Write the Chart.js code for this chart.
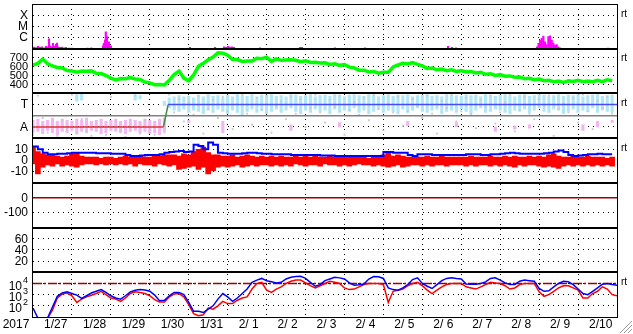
<!DOCTYPE html>
<html>
<head>
<meta charset="utf-8">
<script src="https://cdn.jsdelivr.net/npm/chart.js@4.4.1/dist/chart.umd.min.js"></script>
<style>
  html, body { margin: 0; padding: 0; background: #fff; }
  #wrap { width: 633px; height: 334px; }
</style>
</head>
<body>
<div id="wrap"><canvas id="chart" width="633" height="334"></canvas></div>
<script>
// Time axis: days since 2017-01-27 00:00, series sampled every 3 hours
const step = 0.125;
const yearLabel = '2017';
const dayLabels = ['1/27','1/28','1/29','1/30','1/31','2/ 1','2/ 2','2/ 3','2/ 4','2/ 5','2/ 6','2/ 7','2/ 8','2/ 9','2/10'];

// Tick labels per panel
const xrayTicks = [1e-4, 1e-5, 1e-6];
const xrayTickText = ['X', 'M', 'C'];
const speedTicks = [700, 600, 500, 400];
const sectorTicks = [1, -1];
const sectorTickText = ['T', 'A'];
const imfTicks = [10, 0, -10];
const dstTicks = [0, -100];
const p6Ticks = [60, 40, 20];
const elecTicks = [1e4, 1e3, 1e2];
const elecTickExp = ['4', '3', '2'];

// X-ray flux bars (day, W/m2)
const xrayDay = [0.026,0.077,0.128,0.18,0.231,0.283,0.334,0.385,0.411,0.437,0.488,0.514,0.539,0.591,0.617,0.642,0.694,0.745,0.796,0.848,
  0.93,1.0,1.4,1.5,1.8,1.82,1.85,1.87,1.9,1.95,2.0,
  4.03,4.675,4.906,4.958,5.009,5.06,5.112,5.163,5.831,6.858,6.91,7.757,8.528,10.66,10.763,10.866,
  12.946,12.985,13.023,13.067,13.108,13.152,13.195,13.237,13.28,13.324,13.365,13.409,13.452,13.493,13.537,14.77];
const xrayFlux = [1.4e-7,1.25e-7,1.6e-7,1.3e-7,1.5e-7,1.2e-7,1.6e-7,1.4e-7,7.8e-7,1.8e-7,1.5e-7,3e-7,1.6e-7,2.5e-7,3.2e-7,1.5e-7,1.3e-7,1.4e-7,1.2e-7,1.3e-7,
  1.15e-7,1.15e-7,1.15e-7,1.2e-7,1.8e-7,3e-7,5.9e-7,3.2e-6,1.2e-6,4.2e-7,1.8e-7,
  1.3e-7,1.35e-7,1.5e-7,1.35e-7,1.6e-7,1.4e-7,1.5e-7,1.3e-7,1.2e-7,1.3e-7,1.3e-7,1.2e-7,1.2e-7,1.6e-7,1.3e-7,1.2e-7,
  1.5e-7,3e-7,5.9e-7,8.3e-7,1.35e-6,4.2e-7,2.4e-7,1.2e-6,1.4e-6,5.9e-7,3e-7,2.1e-7,2.4e-7,1.5e-7,1.2e-7,1.15e-7];

// Solar wind speed (km/s)
const speed = [
  618,636,684,632,608,590,584,556,
  552,538,550,548,552,526,522,500,
  472,452,466,464,478,462,456,428,
  418,398,400,394,446,512,550,472,
  442,506,604,636,678,706,754,750,
  728,678,678,658,662,662,694,688,
  706,658,686,670,674,676,670,654,
  666,646,648,640,642,624,632,614,
  622,594,586,560,560,540,546,526,
  536,536,596,618,636,630,646,624,
  608,580,584,564,572,554,564,546,
  556,540,544,528,536,514,520,502,
  510,492,496,480,484,464,470,454,
  460,442,446,432,438,422,442,434,
  448,432,438,430,446,432,452,442];

// IMF sector (T = +1, A = -1)
const sectorDay = [0, 3.35, 3.47, 15];
const sectorVal = [-1, -1, 1, 1];
const phiBlueHi = [
  null,null,null,null,null,null,null,null,
  null,1.9,2.0,null,null,null,null,null,
  null,null,null,null,null,1.9,1.8,null,
  null,null,null,1.3,1.6,1.7,1.8,1.7,
  1.75,1.6,1.8,1.7,1.9,1.75,1.8,1.6,
  1.85,1.7,1.9,1.8,1.75,1.9,1.7,1.85,
  1.8,1.9,1.75,1.8,1.7,1.9,1.85,1.75,
  1.8,1.9,1.7,1.8,1.85,1.75,1.9,1.8,
  1.7,1.85,1.9,1.8,1.75,1.9,1.85,1.7,
  1.8,1.9,1.75,1.85,1.8,1.9,1.7,1.8,
  1.85,1.9,1.75,1.8,1.7,1.9,1.85,1.8,
  1.75,1.9,1.8,1.85,1.7,1.9,1.8,1.75,
  1.85,1.9,1.8,1.7,1.85,1.9,1.75,1.8,
  1.9,1.85,1.7,1.8,1.9,1.75,1.85,1.8,
  1.9,1.7,1.8,1.85,1.9,1.75,1.8,1.85];
const phiBlueLo = [
  null,null,null,null,null,null,null,null,
  null,1.3,1.4,null,null,null,null,null,
  null,null,null,null,null,1.4,1.5,null,
  null,null,null,0.9,0.7,0.5,0.4,0.6,
  0.3,0.5,0.4,0.2,0.5,0.3,0.6,0.4,
  0.2,0.5,0.3,0.1,0.4,0.6,0.3,0.5,
  0.2,0.4,0.6,0.3,0.5,0.7,0.4,0.2,
  0.5,0.3,0.6,0.4,0.5,0.2,0.6,0.3,
  0.5,0.4,0.7,0.3,0.5,0.2,0.4,0.6,
  0.3,0.5,0.4,0.2,0.6,0.3,0.5,0.7,
  0.4,0.3,0.5,0.6,0.2,0.4,0.5,0.3,
  0.6,0.4,0.2,0.5,0.7,0.3,0.4,0.6,
  0.5,0.3,0.2,0.5,0.4,0.6,0.3,0.5,
  0.7,0.4,0.3,0.6,0.5,0.2,0.4,0.6,
  0.3,0.5,0.4,0.7,0.3,0.5,0.4,0.3];
const phiPinkHi = [
  -0.4,-0.3,-0.5,-0.4,-0.2,-0.5,-0.3,-0.4,
  -0.5,-0.3,-0.4,-0.2,-0.5,-0.4,-0.3,-0.5,
  -0.4,-0.3,-0.5,-0.4,-0.3,-0.4,-0.5,-0.3,
  -0.4,-0.5,-0.3,-0.2,null,null,null,null,
  -0.4,null,null,null,null,null,null,-0.5,
  null,null,null,null,null,null,null,null,
  null,null,null,null,null,-0.8,null,null,
  null,null,null,null,null,null,null,-0.6,
  null,null,null,null,null,null,null,null,
  null,null,null,null,null,-0.5,null,null,
  null,null,null,null,null,null,null,-0.6,
  null,null,null,null,null,null,null,-1.0,
  null,null,null,-0.9,null,null,-0.8,null,
  null,null,null,null,null,null,null,null,
  null,-0.8,null,null,-0.5,null,null,-0.4];
const phiPinkLo = [
  -1.5,-1.4,-1.6,-1.3,-1.5,-1.7,-1.4,-1.5,
  -1.3,-1.6,-1.4,-1.5,-1.3,-1.4,-1.6,-1.5,
  -1.3,-1.4,-1.5,-1.6,-1.4,-1.3,-1.5,-1.4,
  -1.6,-1.5,-1.7,-1.4,null,null,null,null,
  -0.6,null,null,null,null,null,null,-1.5,
  null,null,null,null,null,null,null,null,
  null,null,null,null,null,-1.3,null,null,
  null,null,null,null,null,null,null,-1.0,
  null,null,null,null,null,null,null,null,
  null,null,null,null,null,-0.9,null,null,
  null,null,null,null,null,null,null,-1.0,
  null,null,null,null,null,null,null,-1.4,
  null,null,null,-1.2,null,null,-1.1,null,
  null,null,null,null,null,null,null,null,
  null,-1.3,null,null,-1.0,null,null,-0.6];
const phiGray = [
  -1.7,1.8,-0.2,-1.5,-1.0,-1.8,-0.4,-1.2,
  1.9,-1.6,-0.3,-1.4,-1.8,-0.6,-1.1,-1.7,
  1.7,-0.5,-1.3,-1.9,-0.8,1.8,-1.6,-0.4,
  -1.2,-1.7,-0.7,-1.5,1.9,0.3,1.5,-0.5,
  1.2,0.1,1.8,-1.6,0.6,1.4,-0.2,1.7,
  0.4,-1.2,1.0,1.9,0.2,-0.8,1.6,0.5,
  1.8,-1.5,0.9,1.3,-0.3,1.7,0.2,1.5,
  -1.0,0.7,1.9,0.3,-0.6,1.4,0.8,1.8,
  -1.7,0.5,1.2,0.1,1.6,-0.4,1.9,0.6,
  -1.3,1.1,0.3,1.7,-0.9,0.4,1.5,0.9,
  -0.2,1.8,0.2,-1.6,1.3,0.7,1.9,-0.5,
  0.4,1.6,0.1,-1.1,1.4,0.8,1.8,-0.7,
  0.3,1.2,1.9,-1.4,0.5,1.7,0.2,-0.3,
  1.5,0.9,1.8,-1.8,0.6,1.1,0.3,1.6,
  -0.6,1.9,0.4,-1.2,1.3,0.7,1.7,0.2];

// IMF magnitude Bt and Bz range (nT)
const bt = [
  12.5,10,7,5.5,5.5,6,6,6.5,
  7,7,7,7,7,6.5,6.5,6.5,
  6,6,6,5,4,4,4.5,5,
  5,5,5.5,7,7.5,8,8.5,7.5,
  8,14,13,10,16,14,7,6.5,
  6,6,6,6.5,7,7,6.5,6,
  6,5.5,5.5,5.5,5.5,5,5,5,
  5,5,5,4.5,4.5,4.5,4,4,
  4,4,4,4,4,4,4,4,
  7.5,7.5,7,7,7,5,4,5.5,
  5.5,5.5,5,5,5,5,5,5,
  5,5.5,5.5,5.5,5,5,5.5,5.5,
  6,6.5,7,6.5,6,6,6,6,
  6,6.5,7,8,9,7.5,5,4,
  4.5,5,5.5,5.5,6,5.5,5.5,5.5];
const bzLo = [
  -3,-12,-6,-4,-5,-3,-5,-4,
  -5,-6,-4,-3,-3,-4,-3,-4,
  -3,-4,-3,-4,-3,-5,-3,-4,
  -4,-5,-3,-4,-5,-4,-8,-7,
  -6,-5,-8,-6,-12,-9,-6,-5,
  -6,-5,-4,-6,-5,-4,-5,-4,
  -4,-5,-4,-5,-4,-5,-3,-4,
  -5,-4,-4,-5,-3,-4,-4,-5,
  -4,-5,-4,-3,-4,-4,-5,-4,
  -5,-6,-5,-4,-6,-5,-4,-4,
  -5,-4,-5,-4,-4,-5,-4,-4,
  -4,-5,-4,-5,-4,-4,-5,-4,
  -5,-4,-5,-6,-4,-5,-4,-4,
  -5,-6,-5,-6,-7,-5,-4,-5,
  -4,-5,-4,-5,-4,-5,-4,-5];
const bzHi = [
  12,8,6,5,5,4,3,4,
  6,7,4,3,3,3,2,3,
  3,2,3,4,3,3,4,3,
  3,4,4,5,5,5,4,6,
  5,8,10,12,7,5,5,4,
  4,5,3,4,5,4,3,4,
  3,4,3,4,3,3,4,3,
  4,3,4,3,3,4,3,3,
  3,3,4,3,3,2,3,3,
  5,7,4,5,4,3,3,3,
  3,4,3,3,4,3,3,3,
  3,3,4,3,3,3,4,3,
  3,4,3,4,3,3,4,3,
  4,3,5,6,4,3,3,4,
  3,3,4,3,3,3,2,3];

// Dst reference level
const dstDay = [0, 15];
const dstVal = [0, 0];

// Electron flux (blue, red) and alert level
const elecBlue = [
  63,8,8,8,79,708,1410,1780,
  1260,912,457,794,1410,2000,2880,1580,
  794,500,398,794,1780,2510,2880,2630,
  2000,912,282,316,794,1580,1580,1000,
  200,32,32,25,50,100,398,1260,
  631,251,501,1260,3160,12600,20000,28200,
  17800,14100,11200,12600,25100,35500,41700,43700,
  28200,12600,5620,7940,17800,25100,35500,31600,
  25100,11200,7080,7590,8910,25100,41700,39800,
  28200,3980,2820,2510,3980,7940,22400,31600,
  10000,5620,3550,7940,17800,28200,33100,28200,
  25100,8910,8510,8510,10000,13800,28200,31600,
  20000,11200,7940,7940,15800,20000,17800,15800,
  3550,2000,2240,5010,10000,15800,14100,7940,
  3160,1260,1000,2000,3980,8510,10000,7940,6920];
const elecRed = [
  8,8,8,8,40,501,1120,1410,
  794,200,398,631,891,1260,2000,1000,
  501,398,251,501,1260,1780,1580,1260,
  794,355,224,224,631,1120,1260,631,
  126,20,13,16,63,50,100,251,
  158,158,316,501,631,3160,10000,12600,
  2510,1580,3160,5010,10000,15800,20000,20000,
  11200,6310,3980,6310,10000,15800,12600,10000,
  3980,2820,3160,5010,7940,10000,10000,10000,
  7940,200,2000,2510,3160,6310,10000,12600,
  6310,2510,1260,2510,5010,7940,10000,10000,
  10000,5010,3980,3160,5010,7940,12600,11200,
  10000,6310,3160,3980,7940,10000,10000,10000,
  1780,708,1000,2000,3980,6310,6310,3980,
  2510,501,501,1260,2000,5010,3160,1000,794];
const elecLimitDay = [0, 15];
const elecLimit = [1e4, 1e4];

// helpers to build point lists for the library
const series = arr => arr.map((v, i) => ({x: i * step, y: v}));
const pairs = (xs, ys) => xs.map((x, i) => ({x: x, y: ys[i]}));
const ranges = (lo, hi) => lo.map((v, i) => (v === null || hi[i] === null) ? null : {x: i * step, y: [v, hi[i]]}).filter(Boolean);

function panelAxis(type, min, max, ticks, weight) {
  return {
    type: type, min: min, max: max,
    position: 'left', stack: 'panels', stackWeight: 1, weight: weight,
    offset: false,
    afterBuildTicks: s => { s.ticks = ticks.map(v => ({value: v})); },
    ticks: {display: false},
    grid: {color: '#000', drawTicks: false, lineWidth: 1},
    border: {display: false, dash: [1, 4]}
  };
}

// clip each dataset to its own panel
const panelClip = {
  id: 'panelClip',
  beforeDatasetDraw(chart, args) {
    const s = chart.scales[args.meta.yAxisID];
    const a = chart.chartArea;
    chart.ctx.save();
    chart.ctx.beginPath();
    chart.ctx.rect(a.left, s.top, a.right - a.left, s.bottom - s.top);
    chart.ctx.clip();
  },
  afterDatasetDraw(chart) { chart.ctx.restore(); }
};

const FONT = '"Liberation Sans", Arial, sans-serif';

const decor = {
  id: 'decor',
  afterDraw(chart) {
    const {ctx, chartArea: a, scales} = chart;
    const ids = ['yX', 'yV', 'yS', 'yB', 'yD', 'yK', 'yE'];
    ctx.save();
    ctx.strokeStyle = '#000';
    // separators between panels
    ctx.lineWidth = 2;
    ids.slice(0, 6).forEach(id => {
      const y = Math.round(scales[id].bottom);
      ctx.beginPath(); ctx.moveTo(a.left - 1, y); ctx.lineTo(a.right + 1, y); ctx.stroke();
    });
    // outer frame
    ctx.lineWidth = 1;
    ctx.strokeRect(Math.round(a.left) - 0.5, Math.round(a.top) + 0.5, Math.round(a.right - a.left) + 1, Math.round(a.bottom - a.top));

    // y labels
    ctx.fillStyle = '#000';
    ctx.textBaseline = 'middle';
    ctx.textAlign = 'right';
    const lx = 28;
    const put = (id, vals, texts, size) => {
      ctx.font = size + 'px ' + FONT;
      vals.forEach((v, i) => ctx.fillText(texts[i], lx, scales[id].getPixelForValue(v) + 0.5));
    };
    put('yX', xrayTicks, xrayTickText, 12);
    put('yV', speedTicks, speedTicks.map(String), 11);
    put('yS', sectorTicks, sectorTickText, 12);
    put('yB', imfTicks, imfTicks.map(String), 12);
    put('yD', dstTicks, dstTicks.map(String), 12);
    put('yK', p6Ticks, p6Ticks.map(String), 12);
    // powers of ten
    ctx.textAlign = 'left';
    elecTicks.forEach((v, i) => {
      const y = scales.yE.getPixelForValue(v);
      ctx.font = '12px ' + FONT;
      const w10 = ctx.measureText('10').width;
      ctx.font = '9px ' + FONT;
      const ws = ctx.measureText(elecTickExp[i]).width;
      const x0 = lx - w10 - ws - 1;
      ctx.font = '12px ' + FONT;
      ctx.fillText('10', x0, y + 3);
      ctx.font = '9px ' + FONT;
      ctx.fillText(elecTickExp[i], x0 + w10 + 1, y - 3);
    });

    // real-time markers on the right
    ctx.font = '10px ' + FONT;
    ['yX', 'yV', 'yS', 'yB', 'yE'].forEach(id => {
      ctx.fillText('rt', a.right + 4, scales[id].top + 10);
    });

    // date labels
    ctx.font = '12px ' + FONT;
    ctx.textAlign = 'left';
    const xs = scales.x;
    dayLabels.forEach((t, i) => {
      ctx.fillText(t, xs.getPixelForValue(i + 0.5) - 8.5, a.bottom + 8);
    });
    ctx.textAlign = 'center';
    ctx.fillText(yearLabel, 16, a.bottom + 8);

    // resize grip
    ctx.strokeStyle = '#9a9a9a';
    ctx.lineWidth = 1;
    [4, 8, 12].forEach(d => {
      ctx.beginPath(); ctx.moveTo(632 - d, 333); ctx.lineTo(632, 333 - d); ctx.stroke();
    });
    ctx.restore();
  }
};

const dayTicks = dayLabels.slice(1).map((_, i) => i + 1);

new Chart(document.getElementById('chart'), {
  type: 'line',
  data: {
    datasets: [
      {type: 'bar', label: 'X-ray', yAxisID: 'yX', data: xrayDay.map((d, i) => ({x: d, y: [1e-7, xrayFlux[i]]})),
       backgroundColor: '#ff00ff', barThickness: 1.5, grouped: false, order: 1},
      {label: 'Speed', yAxisID: 'yV', data: series(speed), borderColor: '#00ff00', borderWidth: 3.5, pointRadius: 0, order: 1},
      {label: 'Sector', yAxisID: 'yS', data: pairs(sectorDay, sectorVal), borderWidth: 1.5, pointRadius: 0, order: 0,
       segment: {borderColor: c => (c.p0.parsed.y < 0 && c.p1.parsed.y < 0) ? '#e03030' : ((c.p0.parsed.y > 0 && c.p1.parsed.y > 0) ? '#4848ff' : '#3c8c3c')}},
      {label: 'Mid', yAxisID: 'yS', data: pairs(dstDay, dstVal), borderColor: '#808080', borderWidth: 1.5, pointRadius: 0, order: 1},
      {type: 'scatter', label: 'Phi gray', yAxisID: 'yS', data: series(phiGray), backgroundColor: '#c8c8c8', borderWidth: 0,
       pointStyle: 'rect', pointRadius: 1.3, showLine: false, order: 3},
      {type: 'bar', label: 'Phi T', yAxisID: 'yS', data: ranges(phiBlueLo, phiBlueHi), backgroundColor: '#b0e6f8', barThickness: 2.5, grouped: false, order: 4},
      {type: 'bar', label: 'Phi A', yAxisID: 'yS', data: ranges(phiPinkLo, phiPinkHi), backgroundColor: '#f2b6f2', barThickness: 2.5, grouped: false, order: 4},
      {label: 'Bt', yAxisID: 'yB', data: series(bt), borderColor: '#0000ff', borderWidth: 2, pointRadius: 0, stepped: true, order: 1},
      {type: 'bar', label: 'Bz', yAxisID: 'yB', data: ranges(bzLo, bzHi), backgroundColor: '#ff0000', barThickness: 5, grouped: false, order: 2},
      {label: 'Dst', yAxisID: 'yD', data: pairs(dstDay, dstVal), borderColor: '#a00000', borderWidth: 1.5, pointRadius: 0, order: 1},
      {label: 'e blue', yAxisID: 'yE', data: series(elecBlue), borderColor: '#0000ff', borderWidth: 1.5, pointRadius: 0, order: 1},
      {label: 'e red', yAxisID: 'yE', data: series(elecRed), borderColor: '#ff0000', borderWidth: 1.5, pointRadius: 0, order: 2},
      {label: 'Alert', yAxisID: 'yE', data: pairs(elecLimitDay, elecLimit), borderColor: '#a00000', borderWidth: 1.5, pointRadius: 0,
       borderDash: [9, 2, 2, 2], order: 5}
    ]
  },
  options: {
    responsive: false,
    animation: false,
    events: [],
    layout: {padding: {left: 33, right: 16, top: 2, bottom: 17}},
    plugins: {legend: {display: false}, tooltip: {enabled: false}},
    scales: {
      x: {
        type: 'linear', min: 0, max: 15, offset: false,
        afterBuildTicks: s => { s.ticks = dayTicks.map(v => ({value: v})); },
        ticks: {display: false},
        grid: {color: '#000', drawTicks: false, offset: false, lineWidth: 1},
        border: {display: false, dash: [1, 4]}
      },
      yX: panelAxis('logarithmic', 1e-7, 1e-3, xrayTicks, 7),
      yV: panelAxis('linear', 300, 800, speedTicks, 6),
      yS: panelAxis('linear', -2, 2, sectorTicks, 5),
      yB: panelAxis('linear', -20, 20, imfTicks, 4),
      yD: panelAxis('linear', -200, 100, dstTicks, 3),
      yK: panelAxis('linear', 0, 80, p6Ticks, 2),
      yE: panelAxis('logarithmic', 10, 1e5, elecTicks, 1)
    }
  },
  plugins: [panelClip, decor]
});
</script>
</body>
</html>
